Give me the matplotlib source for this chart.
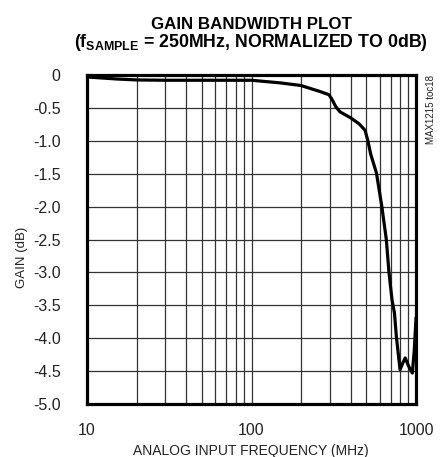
import matplotlib
matplotlib.use("Agg")
import matplotlib.pyplot as plt
from matplotlib.ticker import LogLocator, FixedLocator, FixedFormatter, NullFormatter

plt.rcParams["font.family"] = ["Liberation Sans", "DejaVu Sans"]
plt.rcParams["mathtext.fontset"] = "custom"
plt.rcParams["mathtext.bf"] = "Liberation Sans:bold"
plt.rcParams["mathtext.rm"] = "Liberation Sans"

# gain vs input frequency
freq_mhz = [10, 15, 20, 30, 50, 100, 150, 200, 260, 296, 310, 325, 345, 400,
            450, 490, 510, 530, 575, 620, 660, 685, 715, 740, 760, 800, 830,
            860, 900, 950, 975, 1000]
gain_db = [-0.03, -0.06, -0.075, -0.08, -0.08, -0.08, -0.12, -0.16, -0.25,
           -0.30, -0.38, -0.48, -0.56, -0.65, -0.74, -0.84, -1.0, -1.2, -1.49,
           -2.0, -2.5, -3.0, -3.42, -3.62, -3.98, -4.48, -4.38, -4.30, -4.42,
           -4.53, -4.2, -3.7]

x_ticks = [10, 100, 1000]
x_labels = ["10", "100", "1000"]
y_ticks = [0, -0.5, -1.0, -1.5, -2.0, -2.5, -3.0, -3.5, -4.0, -4.5, -5.0]
y_labels = ["0", "-0.5", "-1.0", "-1.5", "-2.0", "-2.5", "-3.0", "-3.5",
            "-4.0", "-4.5", "-5.0"]

fig = plt.figure(figsize=(4.46, 4.57), dpi=100)
ax = fig.add_axes([87 / 446, 53 / 457, 329 / 446, 329 / 457])

ax.plot(freq_mhz, gain_db, color="black", lw=2.3, solid_joinstyle="round",
        zorder=3)

ax.set_xscale("log")
ax.set_xlim(10, 1000)
ax.set_ylim(-5.0, 0)

ax.xaxis.set_major_locator(FixedLocator(x_ticks))
ax.xaxis.set_major_formatter(FixedFormatter(x_labels))
ax.xaxis.set_minor_locator(LogLocator(base=10, subs=range(2, 10)))
ax.xaxis.set_minor_formatter(NullFormatter())
ax.yaxis.set_major_locator(FixedLocator(y_ticks))
ax.yaxis.set_major_formatter(FixedFormatter(y_labels))

ax.tick_params(which="both", length=0, labelsize=11.5, colors="#222222")
ax.tick_params(axis="y", pad=19)
ax.tick_params(axis="x", pad=14)

ax.grid(True, which="both", color="#333333", lw=0.9)
for s in ax.spines.values():
    s.set_linewidth(2.3)
    s.set_zorder(4)

fig.text(251 / 446, 1 - 29 / 457, "GAIN BANDWIDTH PLOT", ha="center",
         va="baseline", fontsize=12.2, fontweight="bold")
fig.text(251 / 446, 1 - 47 / 457,
         r"(f$_{\mathbf{SAMPLE}}$ = 250MHz, NORMALIZED TO 0dB)",
         ha="center", va="baseline", fontsize=12.8, fontweight="bold")

fig.text(22 / 446, 1 - 257 / 457, "GAIN (dB)", rotation=90, ha="center",
         va="center", fontsize=9.5, color="#222222")
fig.text(251 / 446, 2 / 457, "ANALOG INPUT FREQUENCY (MHz)", ha="center",
         va="baseline", fontsize=10, color="#222222")
fig.text(431 / 446, 1 - 75 / 457, "MAX1215 toc18", rotation=90, ha="center",
         va="top", fontsize=7, color="#222222")

fig.savefig("out.png", dpi=100)
